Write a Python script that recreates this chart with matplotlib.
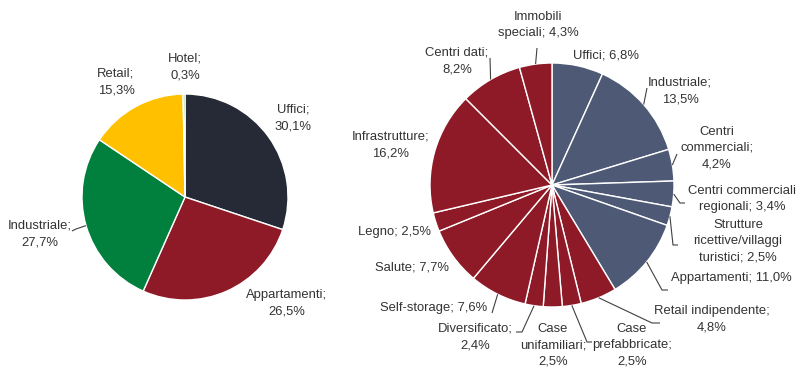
import numpy as np
import matplotlib.pyplot as plt
from matplotlib import font_manager

names = {f.name for f in font_manager.fontManager.ttflist}
if 'Liberation Sans Narrow' in names:
    plt.rcParams['font.family'] = ['Liberation Sans Narrow', 'DejaVu Sans']
    fsize, lsp = 11.5, 1.15
else:
    plt.rcParams['font.family'] = ['Liberation Sans', 'DejaVu Sans']
    fsize, lsp = 9.4, 1.45

# left pie
left_labels = ["Uffici;\n30,1%", "Appartamenti;\n26,5%", "Industriale;\n27,7%",
               "Retail;\n15,3%", "Hotel;\n0,3%"]
left_values = [30.1, 26.5, 27.7, 15.3, 0.3]
left_colors = ["#262a37", "#8f1a27", "#007f3d", "#ffc000", "#5cb85c"]

# right pie
right_labels = ["Uffici; 6,8%", "Industriale;\n13,5%", "Centri\ncommerciali;\n4,2%",
                "Centri commerciali\nregionali; 3,4%",
                "Strutture\nricettive/villaggi\nturistici; 2,5%",
                "Appartamenti; 11,0%", "Retail indipendente;\n4,8%",
                "Case\nprefabbricate;\n2,5%", "Case\nunifamiliari;\n2,5%",
                "Diversificato;\n2,4%", "Self-storage; 7,6%", "Salute; 7,7%",
                "Legno; 2,5%", "Infrastrutture;\n16,2%", "Centri dati;\n8,2%",
                "Immobili\nspeciali; 4,3%"]
right_values = [6.8, 13.5, 4.2, 3.4, 2.5, 11.0, 4.8, 2.5, 2.5, 2.4, 7.6, 7.7,
                2.5, 16.2, 8.2, 4.3]
n_blue = 6
right_colors = ["#4e5a75"] * n_blue + ["#8f1a27"] * (len(right_values) - n_blue)

H = 371

# label placement (image pixels) and leader line tails (None = no leader)
left_text = [(293, 118), (287, 303), (40, 234), (116, 82), (185, 67)]
left_tail = [None, None, [(76, 229), (72, 231)], None, None]

right_text = [(606, 56), (680, 91), (717, 148), (742, 199), (738, 241),
              (731, 278), (712, 319), (632, 345), (553, 345), (475, 337),
              (434, 308), (412, 267), (395, 232), (391, 145), (457, 61),
              (538, 25)]
right_tail = [None, [(647, 88)], [(677, 154)], [(680, 203), (685, 203)],
              [(673, 245), (678, 245)], [(662, 290), (668, 290)],
              [(652, 323), (660, 323)], [(587, 342), (592, 342)], None,
              [(522, 332), (516, 332)], [(492, 313)], None, None, None,
              [(490, 58)], [(537, 48)]]

fig = plt.figure(figsize=(8, 3.71), dpi=100)
ax = fig.add_axes([0, 0, 1, 1])

for values, colors, labels, texts, tails, center, radius in [
        (left_values, left_colors, left_labels, left_text, left_tail, (185, 197), 103),
        (right_values, right_colors, right_labels, right_text, right_tail, (552, 185), 122)]:
    wedges, _ = ax.pie(values, colors=colors, startangle=90, counterclock=False,
                       center=(center[0], H - center[1]), radius=radius,
                       wedgeprops=dict(edgecolor='white', linewidth=1.0))
    for w, lab, (tx, ty), tail in zip(wedges, labels, texts, tails):
        ax.text(tx, H - ty, lab, ha='center', va='center', fontsize=fsize,
                color='#333333', linespacing=lsp)
        if tail is not None:
            mid = np.deg2rad((w.theta1 + w.theta2) / 2)
            x0 = center[0] + radius * np.cos(mid)
            y0 = H - center[1] + radius * np.sin(mid)
            xs = [x0] + [p[0] for p in tail]
            ys = [y0] + [H - p[1] for p in tail]
            ax.plot(xs, ys, color='#404040', lw=0.8, solid_capstyle='butt')

ax.set_xlim(0, 800)
ax.set_ylim(0, H)
ax.set_aspect('equal')
ax.axis('off')

plt.savefig('out.png', dpi=100)
